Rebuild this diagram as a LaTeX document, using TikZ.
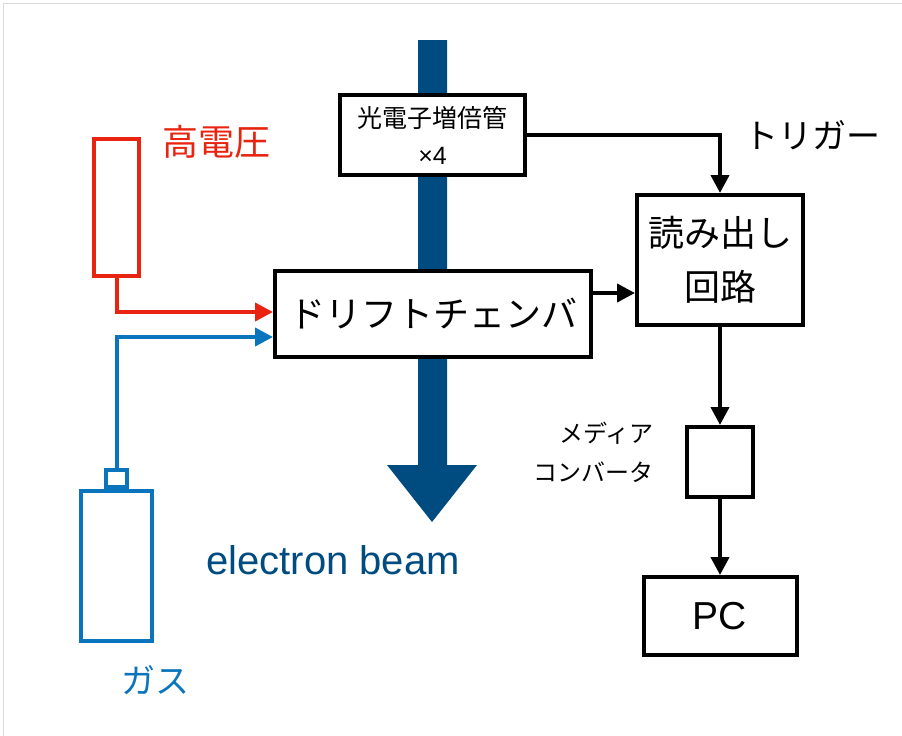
\documentclass[tikz,border=0pt]{standalone}
\usepackage{fontspec}
\setmainfont{Liberation Sans}
\newfontfamily\cjk{Noto Sans CJK JP}
\usetikzlibrary{arrows.meta}
\definecolor{hvred}{HTML}{E8230F}
\definecolor{gasblue}{HTML}{0A75BC}
\definecolor{beamblue}{HTML}{004B80}
\begin{document}
\begin{tikzpicture}[x=1pt,y=-1pt,
  box/.style={draw=black, line width=4pt, fill=white, inner sep=0pt, align=center},
  arr/.style={line width=4pt, -{Triangle[length=18pt,width=18pt]}},
  jp/.style={font=\cjk\fontsize{#1}{#1}\selectfont},
  ]
\useasboundingbox (0,0) rectangle (902,736);
\draw[black!15, line width=1pt] (3,736) -- (3,3) -- (902,3);
% electron beam
\fill[beamblue] (418,40) -- (447,40) -- (447,465) -- (477,465) -- (432,522) -- (387,465) -- (418,465) -- cycle;
% boxes
\node[box, minimum width=185pt, minimum height=80pt, font=\fontsize{25}{37}\selectfont] (pmt) at (432.5,135) {{\cjk 光電子増倍管}\\×4};
\node[box, minimum width=316pt, minimum height=86pt, jp=36] (drift) at (433,314) {ドリフトチェンバ};
\node[box, minimum width=166pt, minimum height=130pt, font=\cjk\fontsize{36}{54}\selectfont] (ro) at (720,260) {読み出し\\回路};
\node[box, minimum width=66pt, minimum height=70pt] (media) at (720,462) {};
\node[box, minimum width=153pt, minimum height=78pt, font=\fontsize{39}{39}\selectfont] (pc) at (720,616) {PC};
% high voltage
\node[draw=hvred, line width=4pt, minimum width=45pt, minimum height=137pt, inner sep=0pt] (hv) at (116.5,207.5) {};
% gas
\node[draw=gasblue, line width=4pt, minimum width=71pt, minimum height=150pt, inner sep=0pt] (cyl) at (116.5,566) {};
\node[draw=gasblue, line width=4pt, minimum width=21pt, minimum height=17pt, inner sep=0pt, anchor=south] (valve) at (cyl.north) {};
% labels
\node[jp=36, text=hvred] (hvl) at (216,142) {高電圧};
\node[jp=34] (trig) at (812,135) {トリガー};
\node[font=\cjk\fontsize{24}{39}\selectfont, align=right, anchor=east] (medl) at (657,452) {メディア\\コンバータ};
\node[font=\fontsize{40}{40}\selectfont, text=beamblue] (beaml) at (333,560) {electron beam};
\node[jp=34, text=gasblue] (gasl) at (155,680) {ガス};
% connectors
\draw[arr] (pmt.east) -| (ro.north);
\draw[arr] ([yshift=21pt]drift.east) -- ([yshift=21pt]drift.east -| ro.west);
\draw[arr] (ro.south) -- (media.north);
\draw[arr] (media.south) -- (pc.north);
\draw[arr, hvred] (hv.south) |- ([yshift=2pt]drift.west);
\draw[arr, gasblue] (valve.north) |- ([yshift=-23pt]drift.west);
\end{tikzpicture}
\end{document}
